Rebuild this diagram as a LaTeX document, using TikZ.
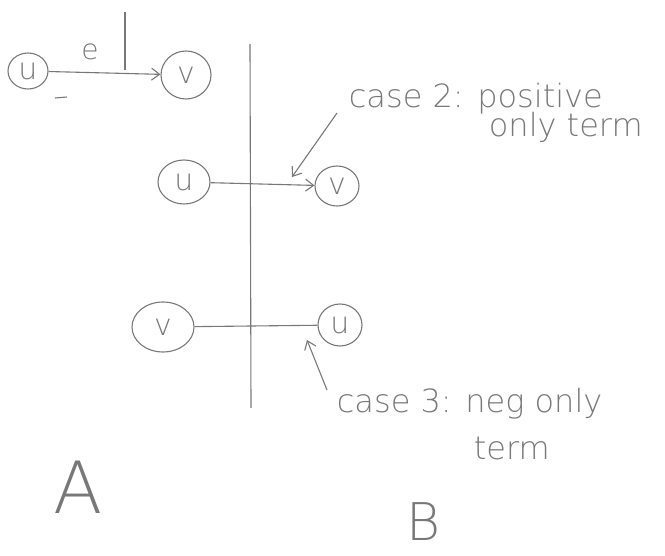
\documentclass[tikz,border=0pt]{standalone}
\usepackage{fontspec}
\setmainfont{DejaVu Sans ExtraLight}
\usetikzlibrary{shapes.geometric,arrows.meta}
\definecolor{pencil}{RGB}{120,120,120}
\tikzset{vert/.style={draw=pencil, ellipse, inner sep=0pt, font=\fontsize{30}{30}\selectfont},
	note/.style={anchor=base west, font=\fontsize{32}{32}\selectfont}}

\begin{document}
\begin{tikzpicture}[x=1pt,y=-1pt,line width=1.1pt,pencil,>={Straight Barb[length=8pt,width=12pt]}]
\useasboundingbox (0,0) rectangle (665,556);
% edge e, drawn alone
\node[vert, minimum width=40, minimum height=36] (ua) at (28,71) {u};
\node[vert, minimum width=50, minimum height=48] (va) at (186,75) {v};
\draw[->] (ua) -- (va);
\node[font=\fontsize{28}{28}\selectfont] (e) at (90,52) {e};
\coordinate (etop) at (125,12);
\coordinate (ebot) at (125,70);
\draw (etop) -- (ebot);
\draw (55,98) -- (67,97);
%
\coordinate (divtop) at (250,44);
\coordinate (divbot) at (251,408);
\draw (divtop) -- (divbot);
% case 2
\node[vert, minimum width=52, minimum height=44] (ub) at (184,182) {u};
\node[vert, minimum width=44, minimum height=40] (vb) at (337,186) {v};
\draw[->] (ub) -- (vb);
\node[note] (c2a) at (345,108) {case 2: positive};
\node[note] (c2b) at (485,137) {only term};
\coordinate (c2from) at (337,113);
\coordinate (c2to) at (292,177);
\draw[->] (c2from) -- (c2to);
% case 3
\node[vert, minimum width=62, minimum height=50] (vc) at (163,327) {v};
\node[vert, minimum width=44, minimum height=42] (uc) at (340,325) {u};
\draw (vc) -- (uc);
\node[note] (c3a) at (333,413) {case 3: neg only};
\node[note] (c3b) at (470,460) {term};
\coordinate (c3from) at (327,390);
\coordinate (c3to) at (307,340);
\draw[->] (c3from) -- (c3to);
%
\node[font=\fontsize{72}{72}\selectfont] (A) at (78,487) {A};
\node[anchor=base, inner sep=0pt, font=\fontsize{52}{52}\selectfont] (B) at (424,540) {B};
\end{tikzpicture}
\end{document}
